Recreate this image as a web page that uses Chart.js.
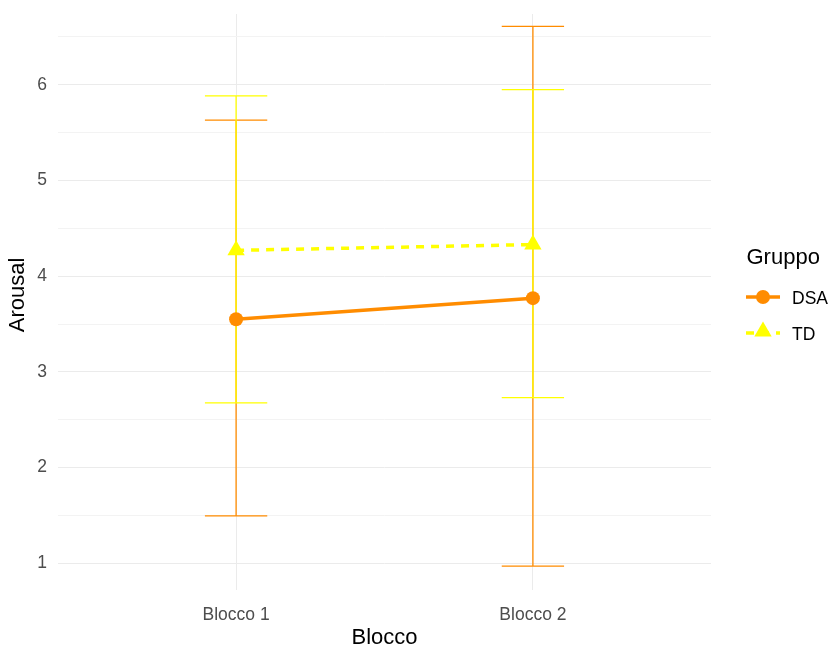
<!DOCTYPE html>
<html><head><meta charset="utf-8">
<script src="https://cdn.jsdelivr.net/npm/chart.js@4"></script>
<style>html,body{margin:0;padding:0;background:#fff}#wrap{width:833px;height:647px;position:relative}</style>
</head><body><div id="wrap"><canvas id="c" width="833" height="647"></canvas></div>
<script>
const categories = ['Blocco 1', 'Blocco 2'];
const groups = ['DSA', 'TD'];
const dsaMean = [3.55, 3.77];
const dsaLow = [1.495, 0.97];
const dsaHigh = [5.63, 6.61];
const tdMean = [4.27, 4.33];
const tdLow = [2.675, 2.73];
const tdHigh = [5.885, 5.95];
const yTickLabels = [1, 2, 3, 4, 5, 6];
const yMinorTicks = [1.5, 2.5, 3.5, 4.5, 5.5, 6.5];
const xTitle = 'Blocco';
const yTitle = 'Arousal';
const legendTitle = 'Gruppo';

const COL_DSA = '#FF8C00';
const COL_TD = '#FFFF00';
const FONT = '"Liberation Sans", Arial, sans-serif';

const errSeries = [
  {low: dsaLow, high: dsaHigh, color: COL_DSA},
  {low: tdLow, high: tdHigh, color: COL_TD}
];

const errorBarPlugin = {
  id: 'errbars',
  beforeDatasetsDraw(chart) {
    const {ctx, scales: {x, y}} = chart;
    ctx.save();
    ctx.lineWidth = 1.3;
    errSeries.forEach(s => {
      ctx.strokeStyle = s.color;
      categories.forEach((c, i) => {
        const px = x.getPixelForValue(i + 1);
        const yl = y.getPixelForValue(s.low[i]);
        const yh = y.getPixelForValue(s.high[i]);
        const hw = (x.getPixelForValue(1.105) - x.getPixelForValue(1));
        ctx.beginPath();
        ctx.moveTo(px, yl); ctx.lineTo(px, yh);
        ctx.moveTo(px - hw, yl); ctx.lineTo(px + hw, yl);
        ctx.moveTo(px - hw, yh); ctx.lineTo(px + hw, yh);
        ctx.stroke();
      });
    });
    ctx.restore();
  }
};

const titlesAndLegendPlugin = {
  id: 'ggLegend',
  afterDraw(chart) {
    const ctx = chart.ctx;
    ctx.save();
    // y axis title
    ctx.fillStyle = '#000';
    ctx.font = '22px ' + FONT;
    ctx.textAlign = 'center';
    ctx.textBaseline = 'middle';
    ctx.save();
    ctx.translate(18, 295);
    ctx.rotate(-Math.PI / 2);
    ctx.fillText(yTitle, 0, 0);
    ctx.restore();
    // legend
    ctx.textBaseline = 'alphabetic';
    ctx.textAlign = 'left';
    ctx.fillText(legendTitle, 746.5, 264);
    const lineY = [297, 333];
    const ptY = [297, 331.5];
    const baseY = [303.5, 339.5];
    chart.data.datasets.forEach((ds, i) => {
      ctx.strokeStyle = ds.borderColor;
      ctx.lineWidth = 3.5;
      ctx.setLineDash(ds.borderDash || []);
      ctx.beginPath(); ctx.moveTo(746, lineY[i]); ctx.lineTo(780, lineY[i]); ctx.stroke();
      ctx.setLineDash([]);
      ctx.fillStyle = ds.pointBackgroundColor;
      ctx.strokeStyle = ds.pointBackgroundColor;
      ctx.lineWidth = 0;
      Chart.helpers.drawPoint(ctx, {pointStyle: ds.pointStyle, radius: ds.pointRadius, borderWidth: 0}, 763, ptY[i]);
      ctx.fillStyle = '#000';
      ctx.font = '17.5px ' + FONT;
      ctx.fillText(ds.label, 792, baseY[i]);
    });
    ctx.restore();
  }
};

new Chart(document.getElementById('c'), {
  type: 'line',
  data: {
    datasets: [
      {
        label: groups[0],
        data: categories.map((c, i) => ({x: i + 1, y: dsaMean[i]})),
        borderColor: COL_DSA, backgroundColor: COL_DSA,
        pointBackgroundColor: COL_DSA, pointBorderColor: COL_DSA,
        borderWidth: 3.5, pointRadius: 7, pointBorderWidth: 0,
        pointStyle: 'circle', order: 1
      },
      {
        label: groups[1],
        data: categories.map((c, i) => ({x: i + 1, y: tdMean[i]})),
        borderColor: COL_TD, backgroundColor: COL_TD,
        pointBackgroundColor: COL_TD, pointBorderColor: COL_TD,
        borderWidth: 3.5, borderDash: [8, 7], pointRadius: 10, pointBorderWidth: 0,
        pointStyle: 'triangle', order: 0
      }
    ]
  },
  options: {
    responsive: false,
    animation: false,
    layout: {padding: {top: 14, right: 122, left: 0, bottom: 0}},
    plugins: {legend: {display: false}, tooltip: {enabled: false}},
    scales: {
      x: {
        type: 'linear', min: 0.4, max: 2.6,
        afterBuildTicks: s => { s.ticks = categories.map((c, i) => ({value: i + 1})); },
        afterFit: s => { s.height = 57; s.paddingLeft = 0; s.paddingRight = 0; },
        ticks: {
          callback: v => categories[v - 1] ?? '',
          color: '#4d4d4d', font: {family: FONT, size: 17.5}, padding: 15, maxRotation: 0
        },
        grid: {color: '#ebebeb', lineWidth: 1, drawTicks: false},
        border: {display: false},
        title: {display: true, text: xTitle, color: '#000', font: {family: FONT, size: 22, lineHeight: 0.8}, padding: {top: 0, bottom: 0}}
      },
      y: {
        type: 'linear', min: 0.72, max: 6.74,
        afterBuildTicks: s => {
          s.ticks = yTickLabels.concat(yMinorTicks).sort((a, b) => a - b).map(v => ({value: v}));
        },
        afterFit: s => { s.width = 58; s.paddingTop = 0; s.paddingBottom = 0; },
        ticks: {
          callback: v => Number.isInteger(v) ? String(v) : '',
          color: '#4d4d4d', font: {family: FONT, size: 17.5}, padding: 11
        },
        grid: {
          color: c => Number.isInteger(c.tick.value) ? '#ebebeb' : '#f3f3f3',
          lineWidth: 1, drawTicks: false
        },
        border: {display: false}
      }
    }
  },
  plugins: [errorBarPlugin, titlesAndLegendPlugin]
});
</script></body></html>
